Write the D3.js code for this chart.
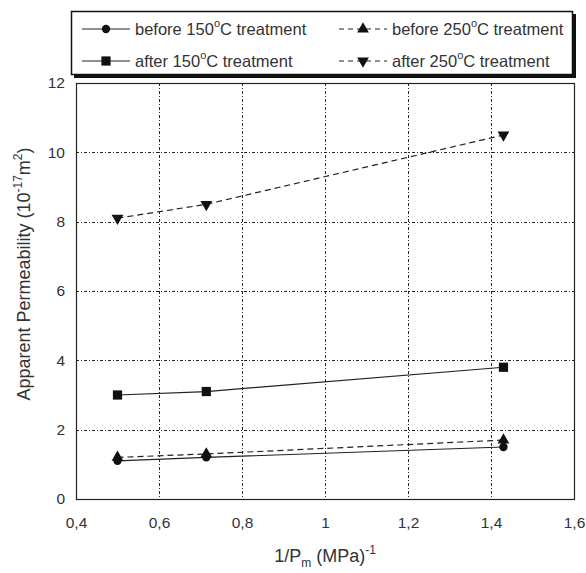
<!DOCTYPE html>
<html>
<head>
<meta charset="utf-8">
<script src="https://cdn.jsdelivr.net/npm/d3@7"></script>
<style>
  body { margin: 0; background: #fff; }
  text { font-family: "Liberation Sans", Arial, sans-serif; fill: #333; }
</style>
</head>
<body>
<div id="chart"></div>
<script>
// data
var xValues = [0.5, 0.714, 1.43];
var before150 = [1.1, 1.2, 1.5];
var before250 = [1.2, 1.3, 1.7];
var after150 = [3.0, 3.1, 3.8];
var after250 = [8.1, 8.5, 10.5];
var xTicks = [0.4, 0.6, 0.8, 1.0, 1.2, 1.4, 1.6];
var yTicks = [0, 2, 4, 6, 8, 10, 12];

var series = [
  { name: "before 150", values: before150, dash: null, symbol: d3.symbolCircle, size: 55, rot: 0 },
  { name: "after 150", values: after150, dash: null, symbol: d3.symbolSquare, size: 85, rot: 0 },
  { name: "before 250", values: before250, dash: "6,4", symbol: d3.symbolTriangle, size: 60, rot: 0 },
  { name: "after 250", values: after250, dash: "6,4", symbol: d3.symbolTriangle, size: 60, rot: 180 }
];

var W = 586, H = 573;
var plot = { left: 76, right: 574, top: 83, bottom: 499 };

var svg = d3.select("#chart").append("svg")
  .attr("width", W)
  .attr("height", H);

var x = d3.scaleLinear().domain([0.4, 1.6]).range([plot.left, plot.right]);
var y = d3.scaleLinear().domain([0, 12]).range([plot.bottom, plot.top]);

// grid
var grid = svg.append("g").attr("stroke", "#222").attr("stroke-width", 1)
  .attr("stroke-dasharray", "3,2,1,2");
grid.selectAll(".vg").data(xTicks.slice(1, -1)).enter().append("line")
  .attr("x1", function(d) { return Math.round(x(d)) + 0.5; })
  .attr("x2", function(d) { return Math.round(x(d)) + 0.5; })
  .attr("y1", plot.top).attr("y2", plot.bottom);
grid.selectAll(".hg").data(yTicks.slice(1, -1)).enter().append("line")
  .attr("y1", function(d) { return Math.round(y(d)) + 0.5; })
  .attr("y2", function(d) { return Math.round(y(d)) + 0.5; })
  .attr("x1", plot.left).attr("x2", plot.right);

// frame
svg.append("rect")
  .attr("x", plot.left + 0.5).attr("y", plot.top + 0.5)
  .attr("width", plot.right - plot.left).attr("height", plot.bottom - plot.top)
  .attr("fill", "none").attr("stroke", "#222").attr("stroke-width", 1.2);

// axes labels
var xAxis = d3.axisBottom(x).tickValues(xTicks).tickSize(0).tickPadding(18)
  .tickFormat(function(d) { return d3.format("~g")(d).replace(".", ","); });
svg.append("g").attr("transform", "translate(0," + plot.bottom + ")").call(xAxis)
  .call(function(g) { g.select(".domain").remove(); })
  .selectAll("text").style("font-size", "15.5px").attr("fill", "#333");

var yAxis = d3.axisLeft(y).tickValues(yTicks).tickSize(0).tickPadding(11);
svg.append("g").attr("transform", "translate(" + plot.left + ",0)").call(yAxis)
  .call(function(g) { g.select(".domain").remove(); })
  .selectAll("text").style("font-size", "15.5px").attr("fill", "#333");

// axis titles
var xt = svg.append("text").attr("x", (plot.left + plot.right) / 2).attr("y", 562)
  .attr("text-anchor", "middle").style("font-size", "18px");
xt.append("tspan").text("1/P");
xt.append("tspan").attr("dy", 5).style("font-size", "12px").text("m");
xt.append("tspan").attr("dy", -5).text(" (MPa)");
xt.append("tspan").attr("dy", -8).style("font-size", "12px").text("-1");

var yt = svg.append("text").attr("transform", "translate(30,274) rotate(-90)")
  .attr("text-anchor", "middle").style("font-size", "18px");
yt.append("tspan").text("Apparent Permeability (10");
yt.append("tspan").attr("dy", -8).style("font-size", "12px").text("-17");
yt.append("tspan").attr("dy", 8).text("m");
yt.append("tspan").attr("dy", -8).style("font-size", "12px").text("2");
yt.append("tspan").attr("dy", 8).text(")");

// series
var line = d3.line().x(function(d) { return x(d[0]); }).y(function(d) { return y(d[1]); });
series.forEach(function(s) {
  var pts = xValues.map(function(v, i) { return [v, s.values[i]]; });
  svg.append("path").datum(pts)
    .attr("d", line).attr("fill", "none").attr("stroke", "#222").attr("stroke-width", 1.2)
    .attr("stroke-dasharray", s.dash);
  svg.selectAll(null).data(pts).enter().append("path")
    .attr("d", d3.symbol().type(s.symbol).size(s.size))
    .attr("transform", function(d) { return "translate(" + x(d[0]) + "," + y(d[1]) + ") rotate(" + s.rot + ")"; })
    .attr("fill", "#111");
});

// legend
var lg = svg.append("g");
lg.append("rect").attr("x", 74).attr("y", 14).attr("width", 502).attr("height", 64).attr("fill", "#111");
lg.append("rect").attr("x", 71.5).attr("y", 11.5).attr("width", 501).attr("height", 63)
  .attr("fill", "#fff").attr("stroke", "#111").attr("stroke-width", 1.5);

var legendItems = [
  { s: series[0], label: "before 150", cx: 106, cy: 29 },
  { s: series[1], label: "after 150", cx: 106, cy: 61 },
  { s: series[2], label: "before 250", cx: 363, cy: 29 },
  { s: series[3], label: "after 250", cx: 363, cy: 61 }
];
legendItems.forEach(function(it) {
  lg.append("line").attr("x1", it.cx - 24).attr("x2", it.cx + 24)
    .attr("y1", it.cy).attr("y2", it.cy)
    .attr("stroke", "#222").attr("stroke-width", 1.2)
    .attr("stroke-dasharray", it.s.dash ? "5,4" : null);
  lg.append("path").attr("d", d3.symbol().type(it.s.symbol).size(it.s.size))
    .attr("transform", "translate(" + it.cx + "," + it.cy + ") rotate(" + it.s.rot + ")")
    .attr("fill", "#111");
  var t = lg.append("text").attr("x", it.cx + 29).attr("y", it.cy + 6).style("font-size", "16.5px");
  t.append("tspan").text(it.label);
  t.append("tspan").attr("dy", -8).style("font-size", "11px").text("o");
  t.append("tspan").attr("dy", 8).text("C treatment");
});
</script>
</body>
</html>
